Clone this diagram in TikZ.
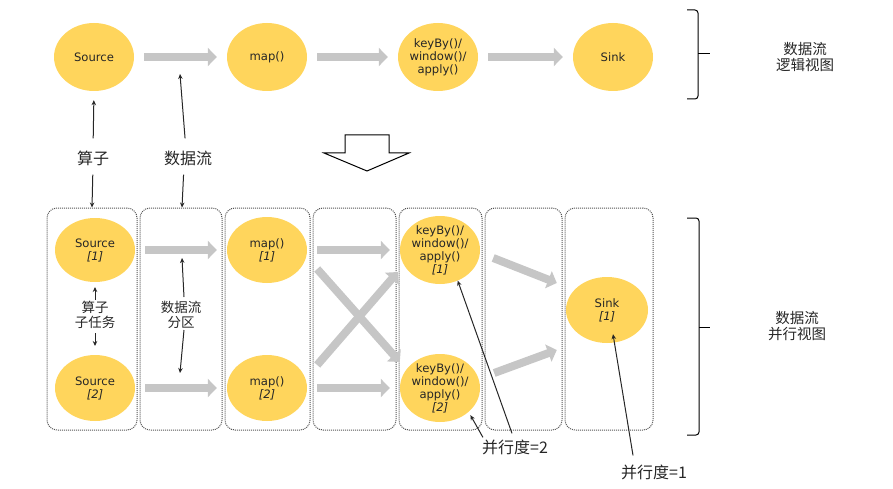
\documentclass[tikz,border=0pt]{standalone}
\usepackage{fontspec}
\setmainfont{DejaVu Sans}
\newfontfamily\cjk{Noto Sans CJK SC}
\usetikzlibrary{arrows.meta,shapes.geometric,calc}
\definecolor{opfill}{HTML}{FFD55C}
\definecolor{flowgray}{HTML}{C6C6C6}
\definecolor{ink}{HTML}{262626}
\definecolor{boxline}{HTML}{555555}

\begin{document}
\begin{tikzpicture}[x=1pt,y=-1pt,
  op/.style={ellipse, fill=opfill, minimum width=80pt, minimum height=68pt,
    inner sep=-9pt, align=center, text=ink, font=\fontsize{11.6}{13}\selectfont},
  flow/.style={draw=flowgray, line width=8pt, -{Triangle[width=18pt,length=9pt]},
    shorten <=10pt, shorten >=10pt},
  ptr/.style={draw=black!85, line width=1pt, -{Stealth[length=5pt,width=4.5pt]}},
  lane/.style={draw=boxline, densely dotted, line width=1pt, rounded corners=10pt,
    minimum height=222pt, inner sep=0pt},
  zh/.style={font=\cjk\fontsize{16}{18}\selectfont, text=ink, align=center, inner sep=0pt},
  zhr/.style={font=\cjk\fontsize{14.5}{16}\selectfont, text=ink, align=center, inner sep=0pt},
  zhs/.style={font=\cjk\fontsize{13.5}{14.5}\selectfont, text=ink, align=center, inner sep=0pt},
  brace/.style={draw=black, line width=1pt, rounded corners=3pt}
]
\useasboundingbox (0,0) rectangle (893,489);

% ---------- logical view ----------
\node[op] (src) at (94,57) {Source};
\node[op] (map) at (267,57) {map()};
\node[op] (key) at (438,57) {keyBy()/\\window()/\\apply()};
\node[op] (sink) at (613,57) {Sink};
\draw[flow] (src) -- (map);
\draw[flow] (map) -- (key);
\draw[flow] (key) -- (sink);

\draw[brace] (687,10) -- (698,10) -- (698,99) -- (687,99);
\draw[line width=1pt] (698,54) -- (710,54);
\node[zhr] (logic) at (805,57) {数据流\\逻辑视图};

% hollow arrow between the two views
\draw[line width=1pt, line join=miter] (345,135) -- (389,135) -- (389,153) -- (409,153)
  -- (367,171) -- (324,153) -- (345,153) -- cycle;

% ---------- parallel view: lanes ----------
\node[lane, minimum width=90pt] (b1) at (92,319) {};
\node[lane, minimum width=82pt] (b2) at (181,319) {};
\node[lane, minimum width=85pt] (b3) at (267.5,319) {};
\node[lane, minimum width=83pt] (b4) at (354.5,319) {};
\node[lane, minimum width=83pt] (b5) at (440.5,319) {};
\node[lane, minimum width=77pt] (b6) at (523.5,319) {};
\node[lane, minimum width=88pt] (b7) at (609,319) {};

% ---------- parallel view: subtasks ----------
\node[op, minimum height=64pt] (s1) at (95,250) {Source\\\itshape [1]};
\node[op, minimum height=66pt] (s2) at (95,388) {Source\\\itshape [2]};
\node[op, minimum height=66pt] (m1) at (267,250) {map()\\\itshape [1]};
\node[op, minimum height=66pt] (m2) at (267,388) {map()\\\itshape [2]};
\node[op, minimum height=68pt] (k1) at (440,250) {keyBy()/\\window()/\\apply()\\\itshape [1]};
\node[op, minimum height=68pt] (k2) at (440,388) {keyBy()/\\window()/\\apply()\\\itshape [2]};
\node[op, minimum width=82pt, minimum height=66pt] (sk) at (607,310) {Sink\\\itshape [1]};

\draw[flow] (s1) -- (m1);
\draw[flow] (s2) -- (m2);
\draw[flow] (m1) -- (k1);
\draw[flow] (m2) -- (k2);
\draw[flow, shorten <=0pt, shorten >=0pt] ($(m1.east)+(10,19)$) -- ($(k2.west)+(0,-26)$);
\draw[flow, shorten <=0pt, shorten >=0pt] ($(m2.east)+(10,-23)$) -- ($(k1.west)+(-2,22)$);
\draw[flow, shorten <=0pt, shorten >=0pt] ($(k1.east)+(13,8)$) -- ($(sk.west)+(-9,-27)$);
\draw[flow, shorten <=0pt, shorten >=0pt] ($(k2.east)+(14,-15)$) -- ($(sk.west)+(-9,40)$);

% ---------- annotations ----------
\node[zh] (oplabel) at (93,158) {算子};
\node[zh] (flowlabel) at (188,158) {数据流};
\coordinate (flowtop) at (180,74);
\draw[ptr, shorten <=12pt, shorten >=9pt] (oplabel.north) -- (src.south);
\draw[ptr, shorten <=9pt] (oplabel.south) -- (b1.north);
\draw[ptr, shorten <=12pt] ([xshift=-2pt]flowlabel.north) -- (flowtop);
\draw[ptr, shorten <=9pt] ([xshift=-4pt]flowlabel.south) -- ([xshift=1pt]b2.north);

\node[zhs] (sublabel) at (95,315) {算子\\子任务};
\coordinate (subup) at (95,287);
\coordinate (subdown) at (95,346);
\draw[ptr] (95,300) -- (subup);
\draw[ptr] (95,333) -- (subdown);

\node[zhs] (partlabel) at (181,315) {数据流\\分区};
\coordinate (partup) at (182,258);
\coordinate (partdown) at (180,373);
\draw[ptr] (184,297) -- (partup);
\draw[ptr] (184,330) -- (partdown);

\node[zh] (p2) at (515,447) {并行度=2};
\draw[ptr] ($(p2.north west)+(1,-2)$) -- ($(k2.south east)+(2,3)$);
\draw[ptr] ($(p2.north)+(-3,-6)$) -- (k1.-60);

\node[zh] (p1) at (654,472) {并行度=1};
\draw[ptr] ($(p1.north)+(-21,-9)$) -- ($(sk.south)+(6,-9)$);

\draw[brace] (687,218) -- (699,218) -- (699,435) -- (687,435);
\draw[line width=1pt] (699,327) -- (710,327);
\node[zhr] (parallel) at (797,326) {数据流\\并行视图};
\end{tikzpicture}
\end{document}
